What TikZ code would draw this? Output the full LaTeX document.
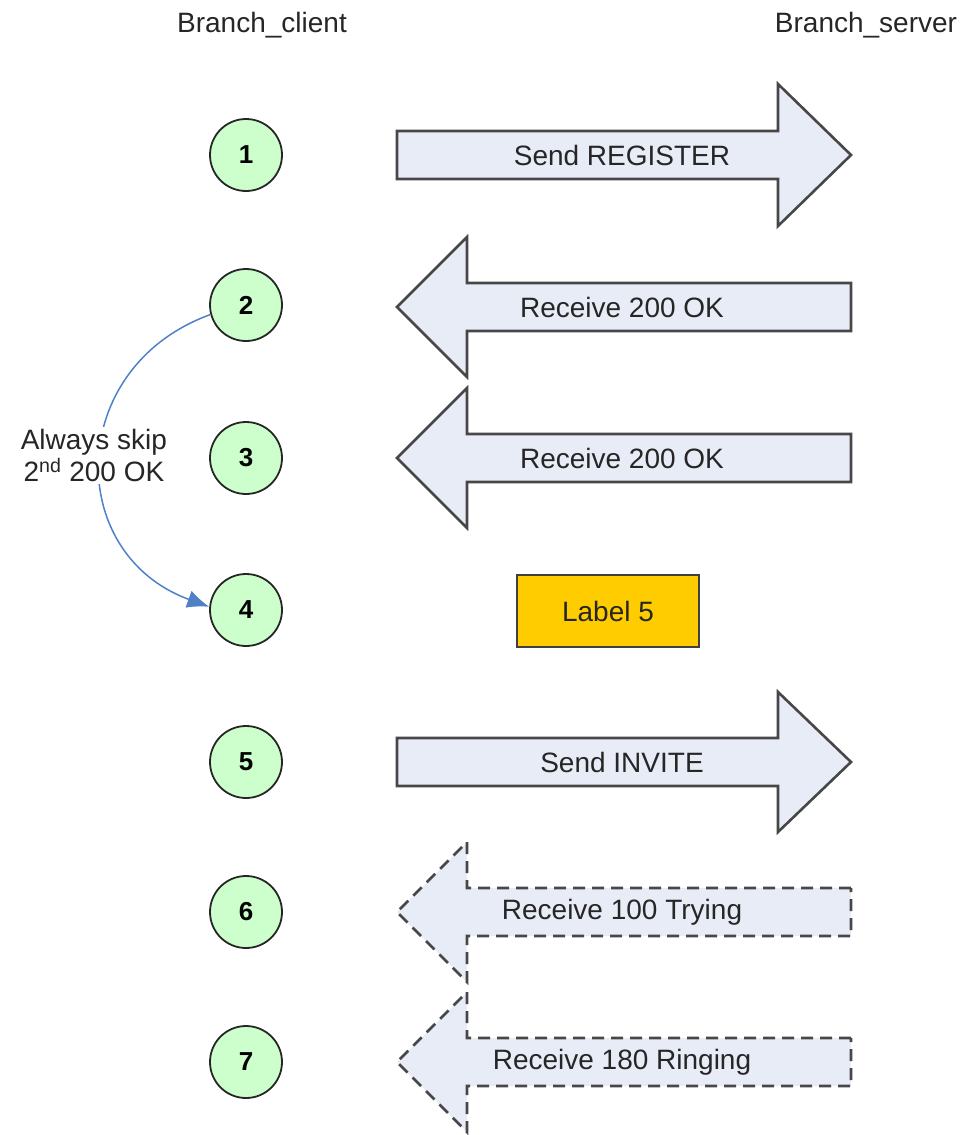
\documentclass[tikz,border=0pt]{standalone}
\usepackage{fontspec}
\setmainfont{Liberation Sans}
\usetikzlibrary{arrows.meta}

\definecolor{stepgreen}{HTML}{CCFFCC}
\definecolor{msgfill}{HTML}{E8ECF7}
\definecolor{labelgold}{HTML}{FFCC00}
\definecolor{skipblue}{HTML}{4F81C9}

\tikzset{
  stepnode/.style={circle, draw=black!85, line width=1.8pt, fill=stepgreen,
    minimum size=72pt, inner sep=0pt, font=\fontsize{26}{30}\selectfont\bfseries},
  msg/.style={draw=black!72, line width=2.6pt, fill=msgfill, line join=miter},
  msgdash/.style={msg, dash pattern=on 12pt off 7pt},
  msgtext/.style={font=\fontsize{28}{32}\selectfont, text=black!85, inner sep=0pt},
  skip/.style={draw=skipblue, line width=1.5pt, -{Latex[length=22pt,width=18pt]}},
}

\begin{document}
\begin{tikzpicture}[x=1pt,y=-1pt]
    \useasboundingbox (0,0) rectangle (965,1135);

    % column titles
    \node[msgtext] (client) at (262,25) {Branch\_client};
    \node[msgtext] (server) at (866,25) {Branch\_server};

    % steps
    \foreach \i/\y in {1/155,2/305,3/458,4/610,5/762,6/912,7/1062}
        \node[stepnode] (c\i) at (246,\y) {\i};

    % messages
    \draw[msg] (397,131) -- (778,131) -- (778,84) -- (851,155) -- (778,226) -- (778,179) -- (397,179) -- cycle;
    \node[msgtext] (m1) at (622,155) {Send REGISTER};

    \draw[msg] (851,283) -- (467,283) -- (467,237) -- (397,307) -- (467,377) -- (467,331) -- (851,331) -- cycle;
    \node[msgtext] (m2) at (622,307) {Receive 200 OK};

    \draw[msg] (851,434) -- (467,434) -- (467,388) -- (397,458) -- (467,528) -- (467,482) -- (851,482) -- cycle;
    \node[msgtext] (m3) at (622,458) {Receive 200 OK};

    \node[draw=black!75, line width=2pt, fill=labelgold, minimum width=182pt, minimum height=72pt,
        font=\fontsize{28}{32}\selectfont, text=black!85] (lbl) at (608,611) {Label 5};

    \draw[msg] (397,738) -- (778,738) -- (778,692) -- (851,762) -- (778,832) -- (778,786) -- (397,786) -- cycle;
    \node[msgtext] (m5) at (622,762) {Send INVITE};

    \draw[msgdash] (851,888) -- (467,888) -- (467,842) -- (397,912) -- (467,982) -- (467,936) -- (851,936) -- cycle;
    \node[msgtext] (m6) at (622,912) {Receive 100 Trying};

    \draw[msgdash] (851,1038) -- (467,1038) -- (467,992) -- (397,1062) -- (467,1132) -- (467,1086) -- (851,1086) -- cycle;
    \node[msgtext] (m7) at (622,1062) {Receive 180 Ringing};

    % skip arc
    \draw[skip] (c2.195) to[out=200, in=160, looseness=1.35]
        node[fill=white, align=center, msgtext, inner sep=2pt, xshift=-7pt, yshift=5pt] (note) {Always skip\\2\textsuperscript{nd} 200 OK}
        (c4.175);
\end{tikzpicture}
\end{document}
